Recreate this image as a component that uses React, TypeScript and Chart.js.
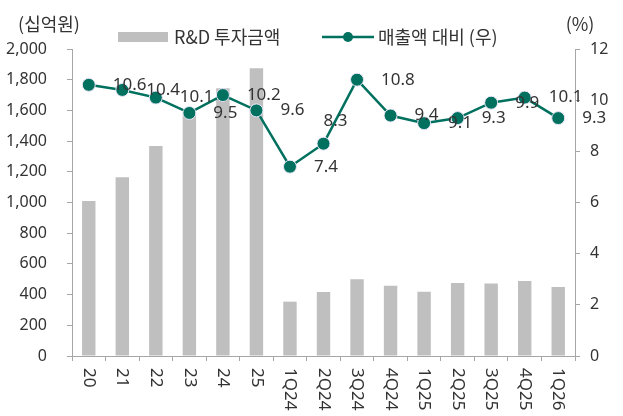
import { useEffect, useRef } from 'react';
import { Chart, registerables } from 'chart.js';

Chart.register(...registerables);

const categories = ['20', '21', '22', '23', '24', '25', '1Q24', '2Q24', '3Q24', '4Q24', '1Q25', '2Q25', '3Q25', '4Q25', '1Q26'];
const rdInvestment = [1010, 1165, 1368, 1580, 1745, 1875, 354, 417, 500, 458, 419, 476, 473, 489, 450];
const salesRatio = [10.6, 10.4, 10.1, 9.5, 10.2, 9.6, 7.4, 8.3, 10.8, 9.4, 9.1, 9.3, 9.9, 10.1, 9.3];
const barLegend = 'R&D 투자금액';
const lineLegend = '매출액 대비 (우)';
const leftTitle = '(십억원)';
const rightTitle = '(%)';

const AXIS = '#a6a6a6';
const TEXT = '#333333';
const LINE = '#00705f';
const BAR = '#bfbfbf';
const NUM_FONT = '"Noto Sans", sans-serif';
const KR_FONT = '"Noto Sans CJK KR", sans-serif';

const overlay = {
  id: 'overlay',
  afterDraw(chart: any) {
    const ctx = chart.ctx;
    const xs = chart.scales.x;
    ctx.save();
    ctx.fillStyle = TEXT;
    // rotated category labels
    ctx.font = '17px ' + NUM_FONT;
    ctx.textAlign = 'left';
    ctx.textBaseline = 'middle';
    categories.forEach((c, i) => {
      const px = xs.getPixelForValue(i);
      ctx.save();
      ctx.translate(px, xs.top + 12);
      ctx.rotate(Math.PI / 2);
      ctx.fillText(c, 0, 0);
      ctx.restore();
    });
    // data labels
    const meta = chart.getDatasetMeta(1);
    ctx.font = '17px ' + NUM_FONT;
    meta.data.forEach((pt: any, i: number) => {
      const above = i === 7;
      ctx.fillText(salesRatio[i].toFixed(1), above ? pt.x : pt.x + 24, above ? pt.y - 23 : pt.y);
    });
    // legend
    ctx.fillStyle = BAR;
    ctx.fillRect(118, 32, 50, 10);
    ctx.fillStyle = TEXT;
    ctx.font = '18px ' + KR_FONT;
    ctx.textAlign = 'left';
    ctx.fillText(barLegend, 174, 37);
    ctx.strokeStyle = LINE;
    ctx.lineWidth = 2.5;
    ctx.beginPath();
    ctx.moveTo(322, 37);
    ctx.lineTo(374, 37);
    ctx.stroke();
    ctx.fillStyle = LINE;
    ctx.beginPath();
    ctx.arc(348, 37, 5, 0, Math.PI * 2);
    ctx.fill();
    ctx.fillStyle = TEXT;
    ctx.fillText(lineLegend, 378, 37);
    // axis titles
    ctx.textAlign = 'center';
    ctx.fillText(leftTitle, 49, 24);
    ctx.fillText(rightTitle, 580, 24);
    ctx.restore();
  },
};

export default function App() {
  const ref = useRef<HTMLCanvasElement>(null);
  useEffect(() => {
    document.body.style.margin = '0';
    const chart = new Chart(ref.current!, {
      type: 'bar',
      data: {
        labels: categories,
        datasets: [
          {
            type: 'bar',
            label: barLegend,
            data: rdInvestment,
            backgroundColor: BAR,
            yAxisID: 'y',
            categoryPercentage: 1,
            barPercentage: 0.4,
            order: 2,
          },
          {
            type: 'line',
            label: lineLegend,
            data: salesRatio,
            borderColor: LINE,
            backgroundColor: LINE,
            borderWidth: 2.5,
            pointRadius: 6.5,
            pointBackgroundColor: LINE,
            pointBorderColor: '#ece6fa',
            pointBorderWidth: 1,
            tension: 0,
            yAxisID: 'y1',
            order: 1,
          },
        ],
      },
      options: {
        responsive: false,
        devicePixelRatio: 1,
        animation: false,
        layout: { padding: { top: 49, left: 0, right: 0, bottom: 0 } },
        plugins: { legend: { display: false }, tooltip: { enabled: false } },
        scales: {
          x: {
            offset: true,
            grid: { display: true, offset: true, drawOnChartArea: false, drawTicks: true, tickLength: 5, color: AXIS },
            border: { display: true, color: AXIS },
            ticks: { color: 'transparent', autoSkip: false, maxRotation: 0, font: { size: 1 } },
            afterFit: (s: any) => { s.height = 60; },
          },
          y: {
            position: 'left',
            min: 0,
            max: 2000,
            grid: { drawOnChartArea: false, drawTicks: true, tickLength: 5, color: AXIS },
            border: { display: true, color: AXIS },
            ticks: {
              stepSize: 200,
              padding: 20,
              color: TEXT,
              font: { family: NUM_FONT, size: 16 },
              callback: (v: any) => Number(v).toLocaleString('en-US'),
            },
            afterFit: (s: any) => { s.width = 72; },
          },
          y1: {
            position: 'right',
            min: 0,
            max: 12,
            grid: { drawOnChartArea: false, drawTicks: true, tickLength: 5, color: AXIS },
            border: { display: true, color: AXIS },
            ticks: {
              stepSize: 2,
              padding: 10,
              color: TEXT,
              font: { family: NUM_FONT, size: 16 },
            },
            afterFit: (s: any) => { s.width = 48; },
          },
        },
      },
      plugins: [overlay],
    });
    return () => chart.destroy();
  }, []);
  return (
    <div style={{ width: 623, height: 416 }}>
      <canvas ref={ref} width={623} height={416} style={{ display: 'block' }} />
    </div>
  );
}
